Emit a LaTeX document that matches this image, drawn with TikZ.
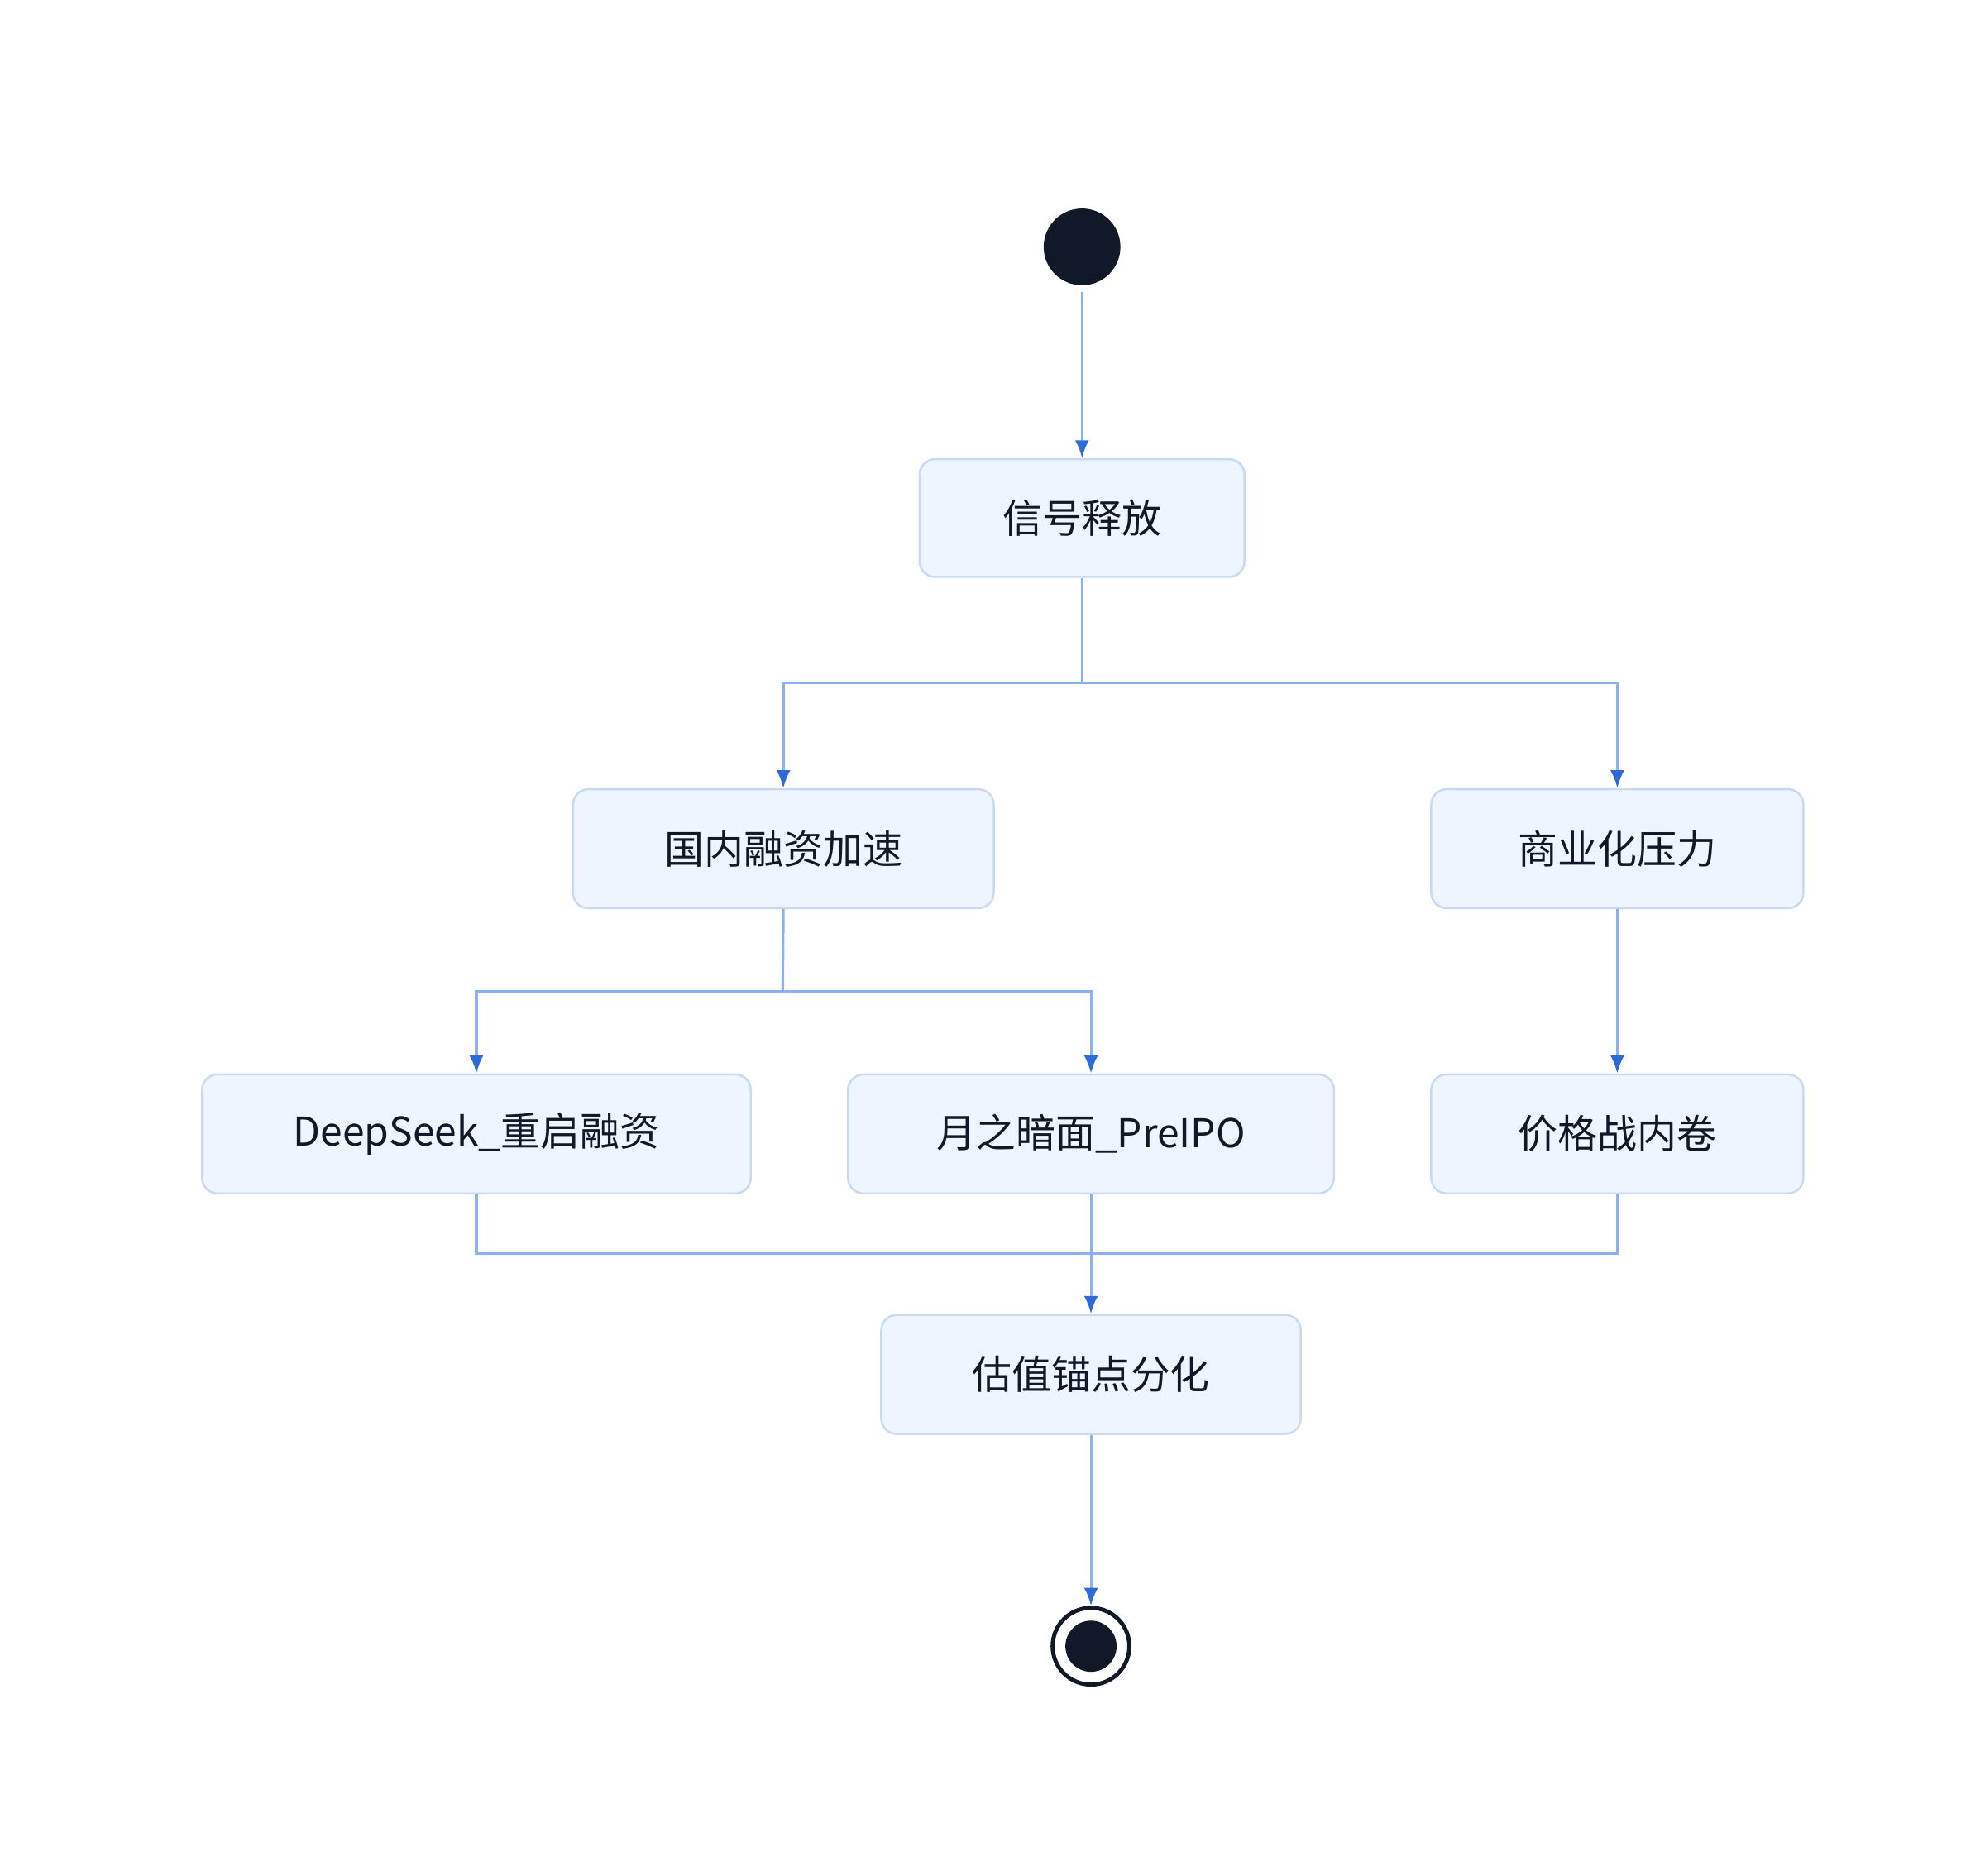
\documentclass[tikz,border=0pt]{standalone}
\usepackage{fontspec}
\setmainfont{Noto Sans CJK SC}
\usetikzlibrary{arrows.meta}
\definecolor{linec}{HTML}{8DB0F0}
\definecolor{tipc}{HTML}{2F6AD9}
\definecolor{boxf}{HTML}{EFF5FE}
\definecolor{boxd}{HTML}{C8D9F3}
\definecolor{dark}{HTML}{111827}
\begin{document}
\begin{tikzpicture}[x=0.5pt,y=-0.5pt,
 box/.style={draw=boxd,fill=boxf,line width=0.8pt,rounded corners=6pt,font=\fontsize{15.5pt}{18pt}\selectfont,text=dark},
 conn/.style={draw=linec,line width=1pt},
 arr/.style={conn,-{Latex[length=7pt,width=5.5pt,color=tipc]}}]
\useasboundingbox (0,0) rectangle (1552,1466);
\node[circle,fill=dark,minimum size=30pt,inner sep=0] (start) at (846,193) {};
\node[box,minimum width=127pt,minimum height=46pt] (s) at (846,405) {信号释放};
\node[box,minimum width=164.5pt,minimum height=46.5pt] (a) at (612.5,663.5) {国内融资加速};
\node[box,minimum width=145.5pt,minimum height=46.5pt] (b) at (1264.5,663.5) {商业化压力};
\node[box,minimum width=214.5pt,minimum height=46.5pt] (c) at (372.5,886.5) {DeepSeek\_重启融资};
\node[box,minimum width=190pt,minimum height=46.5pt] (d) at (853,886.5) {月之暗面\_PreIPO};
\node[box,minimum width=145.5pt,minimum height=46.5pt] (e) at (1264.5,886.5) {价格战内卷};
\node[box,minimum width=164pt,minimum height=46.5pt] (f) at (853,1074.5) {估值锚点分化};
\node[circle,draw=dark,line width=1.6pt,fill=white,minimum size=30pt,inner sep=0] (end) at (853,1287) {};
\node[circle,fill=dark,minimum size=20pt,inner sep=0] at (end) {};
\coordinate (sp) at (846,534);
\coordinate (ap) at (612,775);
\coordinate (jn) at (852,980);
\draw[arr] (846,228) -- (s.north);
\draw[conn] (s.south) -- (sp);
\draw[arr] (sp) -| (a.north);
\draw[arr] (sp) -| (b.north);
\draw[conn] (a.south) -- (ap);
\draw[arr] (ap) -| (c.north);
\draw[arr] (ap) -| (d.north);
\draw[arr] (b.south) -- (e.north);
\draw[conn] (c.south) |- (jn);
\draw[conn] (e.south) |- (jn);
\draw[arr] (d.south) -- (f.north);
\draw[arr] (f.south) -- (end.north);
\end{tikzpicture}
\end{document}
